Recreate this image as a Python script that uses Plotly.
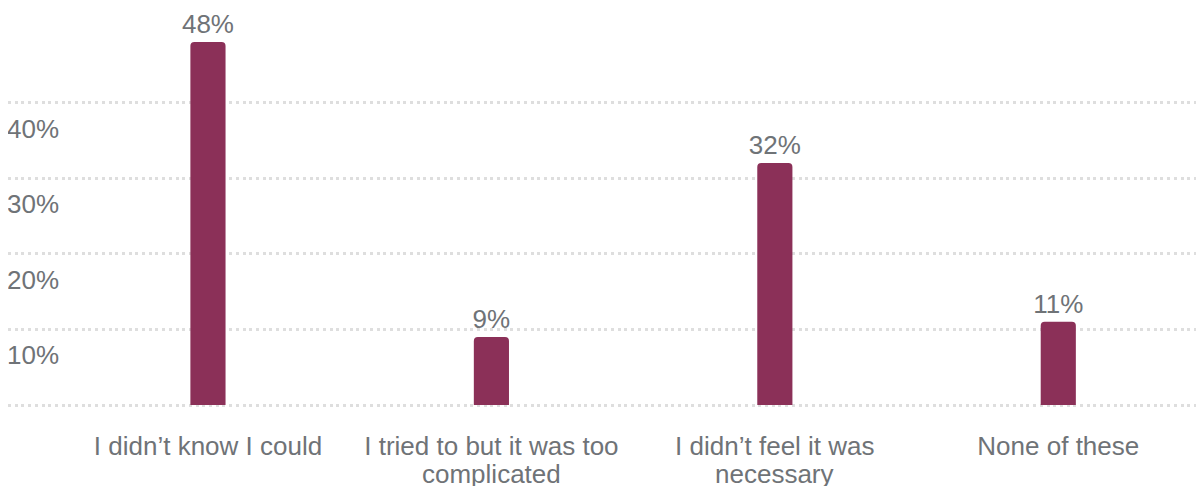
import plotly.graph_objects as go

categories = ["I didn’t know I could", "I tried to but it was too<br>complicated",
              "I didn’t feel it was<br>necessary", "None of these"]
values = [48, 9, 32, 11]
value_labels = ["48%", "9%", "32%", "11%"]
y_tickvals = [0, 10, 20, 30, 40]
y_ticktext = ["", "10%", "20%", "30%", "40%"]

BAR = "#8b3058"
TXT = "#6f7377"
FONT = "Liberation Sans, Arial, sans-serif"
FS = 26

first_lines = [c.split("<br>")[0] for c in categories]

fig = go.Figure(go.Bar(
    x=categories, y=values, text=value_labels, textposition="outside",
    constraintext="none",
    textfont=dict(size=FS, color=TXT, family=FONT),
    marker=dict(color=BAR, cornerradius=4, line=dict(width=0)),
    width=0.124, cliponaxis=False, hoverinfo="skip",
))

# second lines of wrapped category labels (tighter line spacing than Plotly's default)
for c in categories:
    parts = c.split("<br>")
    if len(parts) > 1:
        fig.add_annotation(x=c, y=0, xref="x", yref="y", text=parts[1],
                           showarrow=False, yanchor="middle", yshift=-69,
                           font=dict(size=FS, color=TXT, family=FONT))

fig.update_layout(
    width=1204, height=486,
    margin=dict(l=0, r=12, t=0, b=86, autoexpand=False),
    paper_bgcolor="white", plot_bgcolor="white",
    showlegend=False,
    font=dict(family=FONT, color=TXT, size=FS),
    xaxis=dict(range=[-0.7055, 3.5], showgrid=False, showline=False, zeroline=False,
               automargin=False, ticks="", tickfont=dict(size=FS, color=TXT),
               tickvals=categories, ticktext=first_lines, ticklabelstandoff=20),
    yaxis=dict(range=[-0.397, 52.5], tickvals=y_tickvals, ticktext=y_ticktext,
               showgrid=True, gridcolor="#dedede", gridwidth=3, griddash="3px,3.7px",
               zeroline=False, showline=False, ticks="", automargin=False,
               ticklabelposition="inside", ticklabelshift=26, ticklabelstandoff=-4,
               tickfont=dict(size=FS, color=TXT)),
)

fig.write_html("out.html")
